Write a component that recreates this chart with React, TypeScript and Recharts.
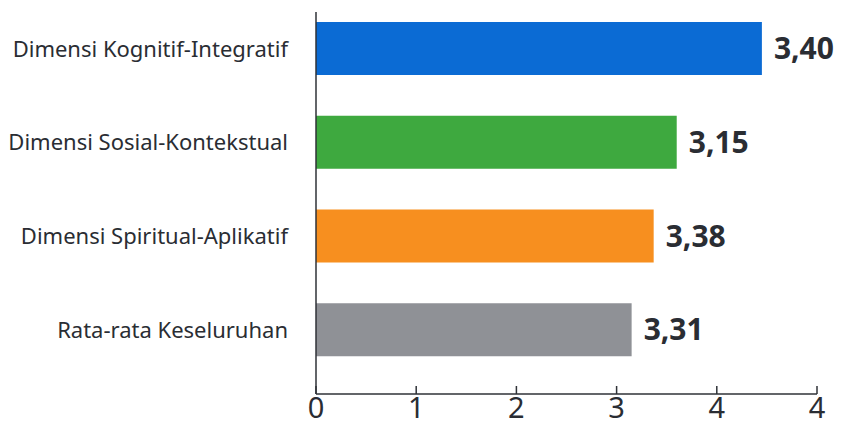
import { Bar, BarChart, Cell, LabelList, XAxis, YAxis } from "recharts";

const categories = [
  "Dimensi Kognitif-Integratif",
  "Dimensi Sosial-Kontekstual",
  "Dimensi Spiritual-Aplikatif",
  "Rata-rata Keseluruhan",
];
// bar lengths as drawn in the picture (on the axis scale)
const barValues = [4.45, 3.6, 3.37, 3.15];
// value texts printed next to the bars
const valueLabels = ["3,40", "3,15", "3,38", "3,31"];
const tickValues = [0, 1, 2, 3, 4, 5];
const tickLabels = ["0", "1", "2", "3", "4", "4"];
const barColors = ["#0b6bd4", "#3ea93f", "#f78f1f", "#8f9196"];

const data = categories.map((name, i) => ({
  name,
  value: barValues[i],
  label: valueLabels[i],
}));

const font = "'Noto Sans', 'Open Sans', sans-serif";

export default function App() {
  return (
    <div style={{ position: "absolute", left: 0, top: 0 }}>
      <BarChart
        width={858}
        height={423}
        layout="vertical"
        data={data}
        margin={{ top: 12, right: 41, bottom: 28, left: 0 }}
        barSize={53}
      >
        <XAxis
          type="number"
          domain={[0, 5]}
          ticks={tickValues}
          tickFormatter={(v: number) => tickLabels[tickValues.indexOf(v)]}
          height={1}
          stroke="#2f3237"
          strokeWidth={1.5}
          tickSize={-8}
          tickMargin={11}
          tick={{ fill: "#2a2d33", fontSize: 29, fontFamily: font }}
          interval={0}
        />
        <YAxis
          type="category"
          dataKey="name"
          width={316}
          stroke="#2f3237"
          strokeWidth={1.5}
          tickLine={false}
          tickSize={0}
          tickMargin={28}
          padding={{ top: -10, bottom: 17 }}
          tick={{ fill: "#2a2d33", fontSize: 22, fontFamily: font }}
        />
        <Bar dataKey="value" isAnimationActive={false}>
          {data.map((d, i) => (
            <Cell key={d.name} fill={barColors[i]} />
          ))}
          <LabelList
            dataKey="label"
            position="right"
            offset={12}
            fill="#2a2d33"
            style={{ fontSize: 30, fontWeight: 700, fontFamily: font }}
          />
        </Bar>
      </BarChart>
    </div>
  );
}
